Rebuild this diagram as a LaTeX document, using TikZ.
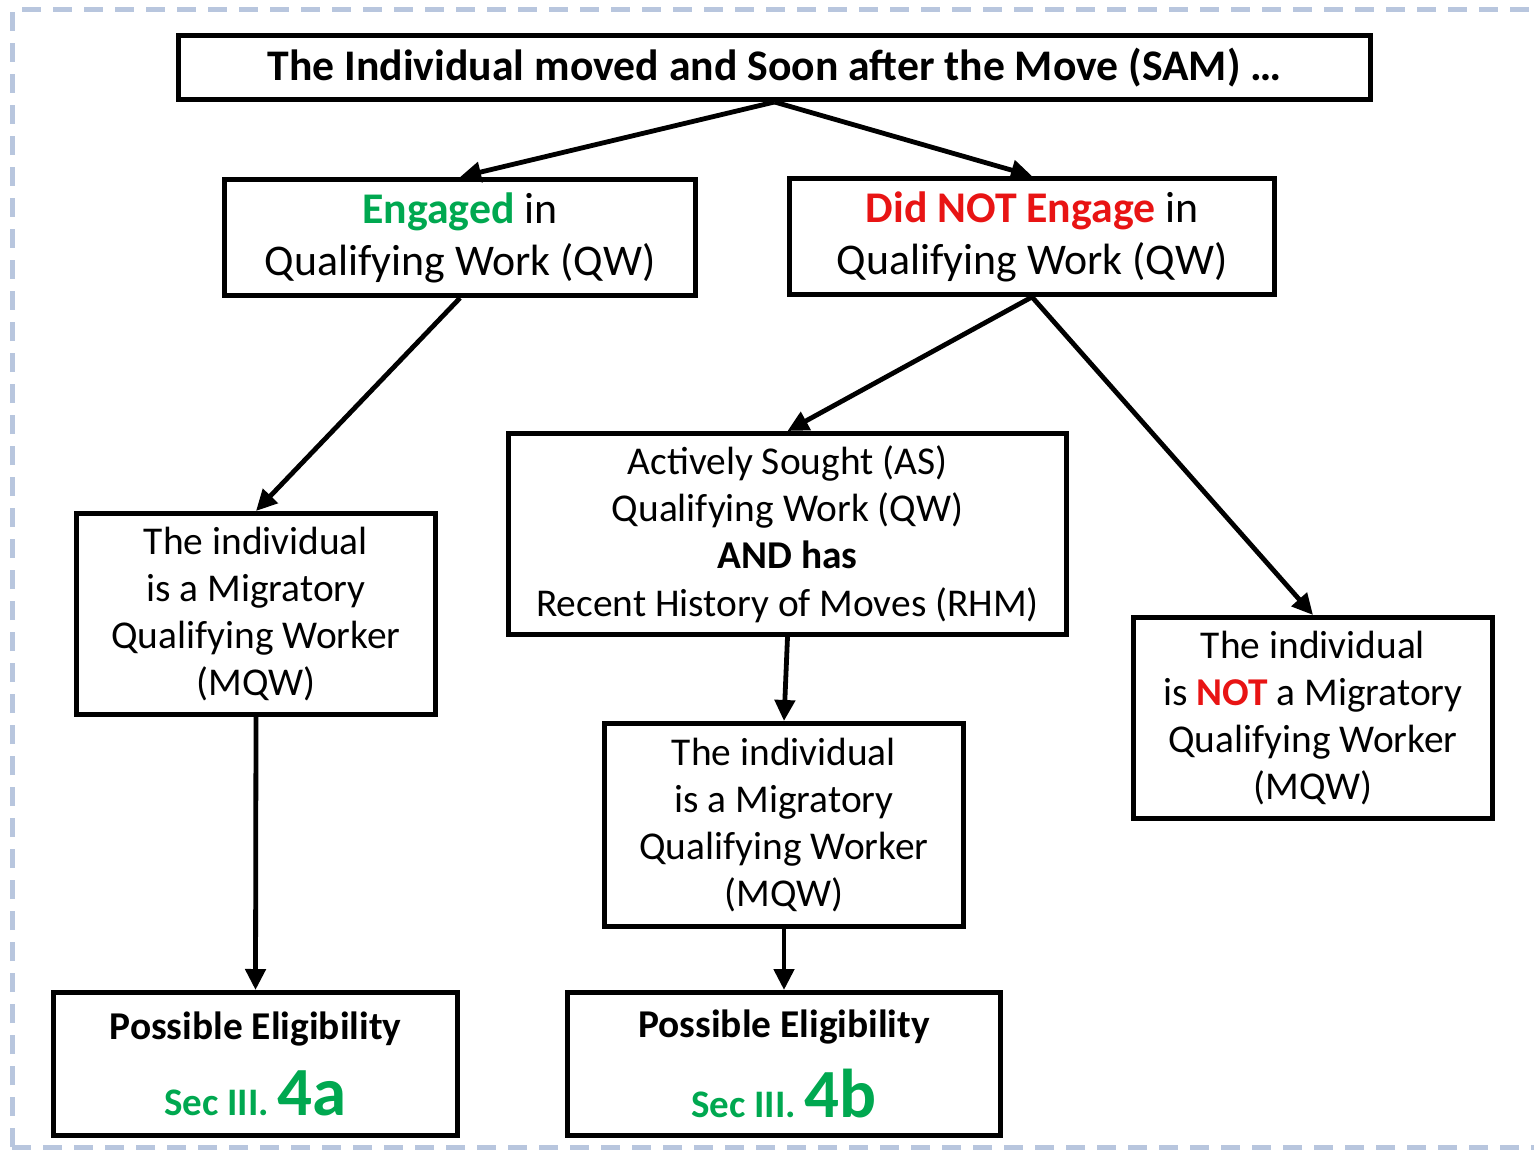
\documentclass[tikz,border=0pt]{standalone}
\usepackage{fontspec}
\setmainfont{Carlito}
\usetikzlibrary{arrows.meta}
\definecolor{okgreen}{RGB}{0,168,80}
\definecolor{nored}{RGB}{232,20,20}
\definecolor{frameblue}{RGB}{184,198,222}
\begin{document}
\begin{tikzpicture}[x=1pt,y=-1pt,
  box/.style={draw=black,line width=5pt,inner sep=0pt,align=center,rectangle},
  conn/.style={line width=4.8pt,-{Triangle[length=21pt,width=20pt]}},
  bigtxt/.style={font=\fontsize{43.8}{52}\selectfont},
  midtxt/.style={font=\fontsize{39.4}{47.3}\selectfont},
]
\useasboundingbox (0,0) rectangle (1534,1150);
\begin{scope}
\clip (0,0) rectangle (1534,1150);
\draw[frameblue,line width=5pt,dash pattern=on 19pt off 12pt] (12,1147) -- (12,10) -- (1560,10);
\draw[frameblue,line width=5pt,dash pattern=on 19pt off 12pt] (12,1147) -- (1560,1147);
\end{scope}

\node[box,minimum width=1192pt,minimum height=64pt,font=\fontsize{43.7}{50}\selectfont\bfseries] (sam) at (774.5,67.5)
  {The Individual moved and Soon after the Move (SAM) \ldots};
\node[box,bigtxt,minimum width=471pt,minimum height=116pt] (eng) at (460,237.5)
  {{\bfseries\color{okgreen}Engaged} in\\Qualifying Work (QW)};
\node[box,bigtxt,minimum width=485pt,minimum height=116pt] (dne) at (1032,236.5)
  {{\bfseries\color{nored}Did NOT Engage} in\\Qualifying Work (QW)};
\node[box,midtxt,minimum width=359pt,minimum height=201pt] (mqwl) at (256,614)
  {The individual\\is a Migratory\\Qualifying Worker\\(MQW)};
\node[box,midtxt,minimum width=558pt,minimum height=201pt] (as) at (787.5,534)
  {Actively Sought (AS)\\Qualifying Work (QW)\\\textbf{AND has}\\Recent History of Moves (RHM)};
\node[box,midtxt,minimum width=359pt,minimum height=203pt] (mqwm) at (784,825)
  {The individual\\is a Migratory\\Qualifying Worker\\(MQW)};
\node[box,midtxt,minimum width=359pt,minimum height=201pt] (notm) at (1313,718)
  {The individual\\is {\bfseries\color{nored}NOT} a Migratory\\Qualifying Worker\\(MQW)};
\node[box,minimum width=404pt,minimum height=143pt,font=\fontsize{39.4}{46}\selectfont\bfseries] (pea) at (255.5,1064)
  {Possible Eligibility\\[24pt]{\color{okgreen}\fontsize{39}{40}\selectfont Sec III. \fontsize{69}{40}\selectfont 4a}};
\node[box,minimum width=433pt,minimum height=143pt,font=\fontsize{39.4}{46}\selectfont\bfseries] (peb) at (784,1064)
  {Possible Eligibility\\[24pt]{\color{okgreen}\fontsize{39}{40}\selectfont Sec III. \fontsize{69}{40}\selectfont 4b}};

\draw[conn] (sam.south) -- (eng.north);
\draw[conn] (sam.south) -- (dne.north);
\draw[conn] (eng.south) -- (mqwl.north);
\draw[conn] (dne.south) -- (as.north);
\draw[conn] (dne.south) -- (notm.north);
\draw[conn] (as.south) -- (mqwm.north);
\draw[conn] (mqwl.south) -- (pea.north);
\draw[conn] (mqwm.south) -- (peb.north);
\end{tikzpicture}
\end{document}
